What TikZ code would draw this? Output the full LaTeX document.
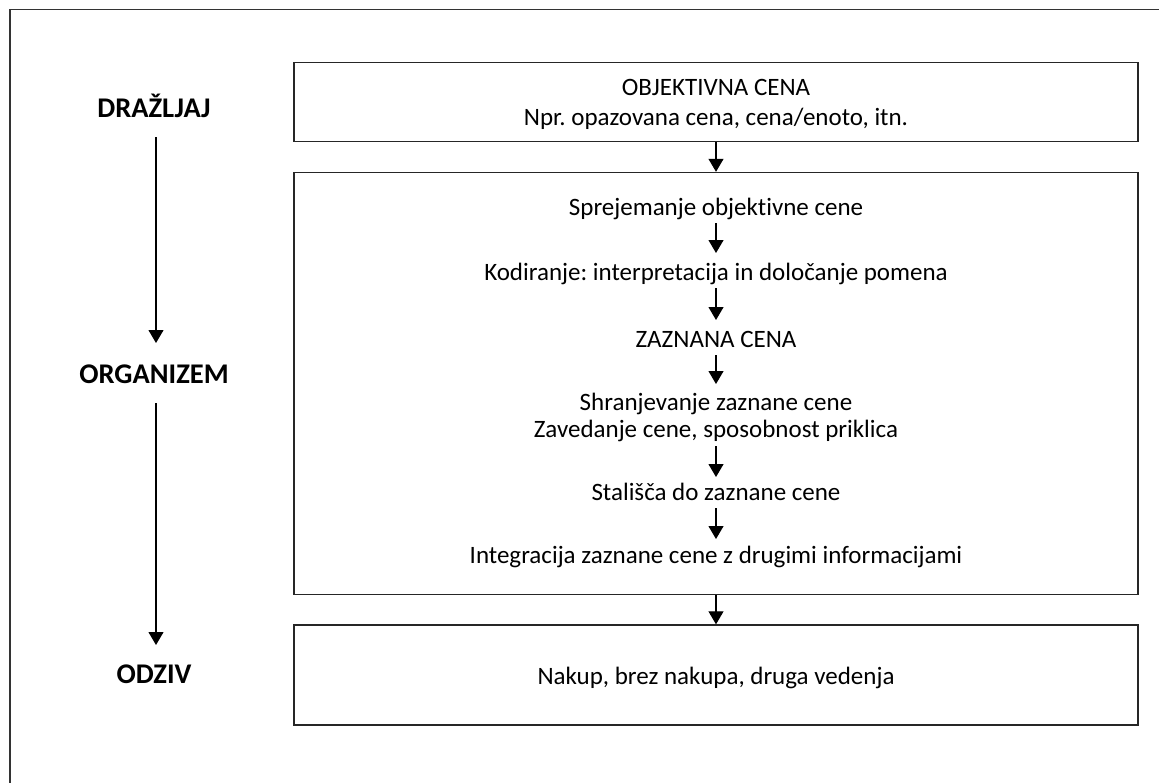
\documentclass[tikz,border=0pt]{standalone}
\usepackage{fontspec}
\setmainfont[Ligatures=NoCommon]{Carlito}
\usetikzlibrary{arrows.meta}
\frenchspacing
\begin{document}
\begin{tikzpicture}[x=1pt,y=-1pt,
  body/.style={font=\fontsize{25}{30}\selectfont, inner sep=0pt, anchor=base},
  stage/.style={font=\bfseries\fontsize{28.5}{34}\selectfont, inner sep=0pt, anchor=base},
  panel/.style={draw=black!85, line width=1.4pt, inner sep=0pt, minimum width=844pt},
  flow/.style={-{Triangle[length=13pt,width=15pt]}, line width=1.1pt},
]
\useasboundingbox (0,0) rectangle (1159,782);
% outer frame, cut off at the right and bottom
\begin{scope}
  \clip (0,0) rectangle (1159,782);
  \draw[line width=1.4pt, black!80] (10,9.5) rectangle (1200,820);
\end{scope}

% stages on the left
\node[stage] (stim) at (154,117) {DRAŽLJAJ};
\node[stage] (org)  at (154,383) {ORGANIZEM};
\node[stage] (resp) at (154,683) {ODZIV};
\draw[flow] ([xshift=2pt,yshift=-20pt]stim.base) -- ([xshift=2pt,yshift=40pt]org.base);
\draw[flow] ([xshift=2pt,yshift=-20pt]org.base) -- ([xshift=2pt,yshift=38pt]resp.base);

% panels
\node[panel, minimum height=79pt]  (p1) at (716,102)   {};
\node[panel, minimum height=422pt] (p2) at (716,383.5) {};
\node[panel, minimum height=100pt] (p3) at (716,675)   {};
\draw[flow] (p1.south) -- (p2.north);
\draw[flow] (p2.south) -- (p3.north);

% stimulus panel
\node[body] (obj)  at (716,95)  {OBJEKTIVNA CENA};
\node[body] (objx) at (716,125) {Npr. opazovana cena, cena/enoto, itn.};

% processing steps
\node[body] (s1)  at (716,215) {Sprejemanje objektivne cene};
\node[body] (s2)  at (716,280) {Kodiranje: interpretacija in določanje pomena};
\node[body] (s3)  at (716,347) {ZAZNANA CENA};
\node[body] (s4a) at (716,410) {Shranjevanje zaznane cene};
\node[body] (s4b) at (716,437) {Zavedanje cene, sposobnost priklica};
\node[body] (s5)  at (716,500) {Stališča do zaznane cene};
\node[body] (s6)  at (716,563) {Integracija zaznane cene z drugimi informacijami};
\draw[flow] ([yshift=-8pt]s1.base)  -- ([yshift=27pt]s2.base);
\draw[flow] ([yshift=-8pt]s2.base)  -- ([yshift=27pt]s3.base);
\draw[flow] ([yshift=-8pt]s3.base)  -- ([yshift=26pt]s4a.base);
\draw[flow] ([yshift=-9pt]s4b.base) -- ([yshift=23pt]s5.base);
\draw[flow] ([yshift=-8pt]s5.base)  -- ([yshift=24pt]s6.base);

% response panel
\node[body] (buy) at (716,684) {Nakup, brez nakupa, druga vedenja};
\end{tikzpicture}
\end{document}
